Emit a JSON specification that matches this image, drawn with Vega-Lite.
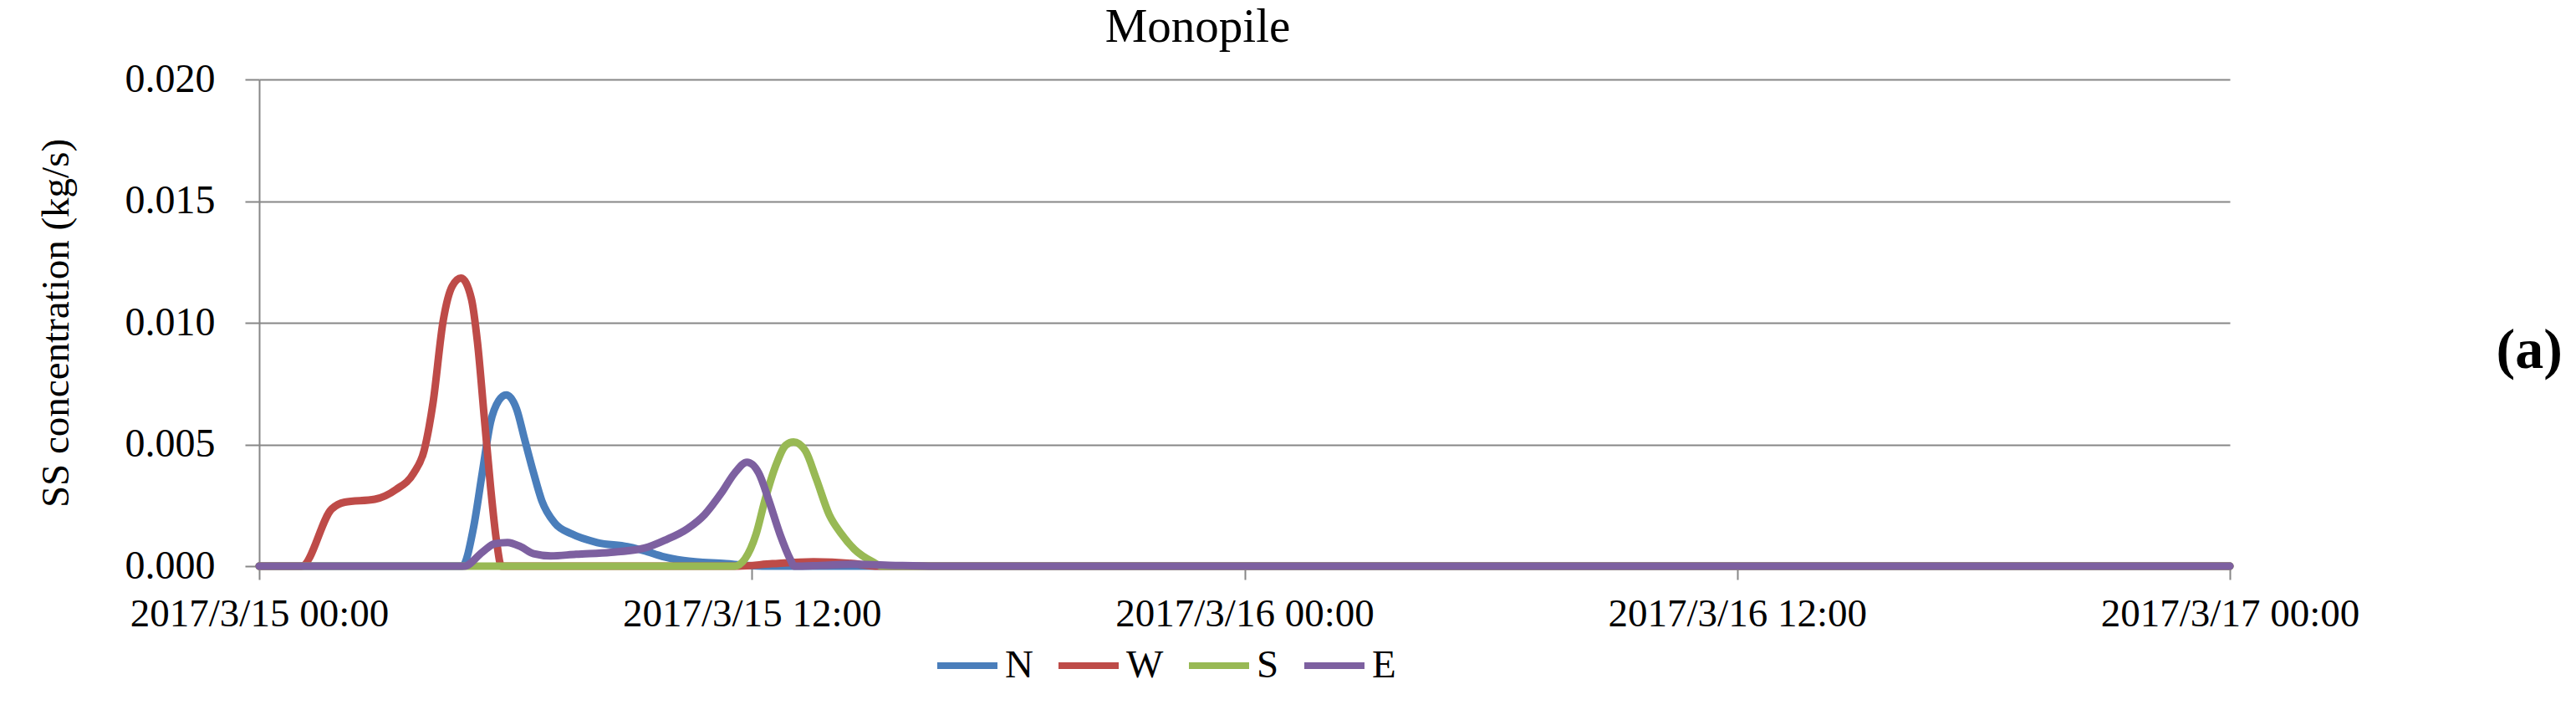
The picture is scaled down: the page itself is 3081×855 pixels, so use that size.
{
  "$schema": "https://vega.github.io/schema/vega-lite/v6.json",
  "autosize": {"type": "none"},
  "width": 2357,
  "height": 582,
  "padding": {"left": 310, "top": 95, "right": 414, "bottom": 178},
  "background": "white",
  "config": {"view": {"stroke": null}},
  "title": {"text": "Monopile", "font": "Liberation Serif", "fontSize": 57, "fontWeight": "normal", "color": "black", "anchor": "middle", "frame": "group", "offset": 9, "dx": -56},
  "data": {"values": [
    {"series": "N", "t": "2017-03-15T00:00:00", "v": 0},
    {"series": "N", "t": "2017-03-15T04:57:00", "v": 0},
    {"series": "N", "t": "2017-03-15T05:13:00", "v": 0.00155},
    {"series": "N", "t": "2017-03-15T05:26:00", "v": 0.00383},
    {"series": "N", "t": "2017-03-15T05:38:00", "v": 0.0059},
    {"series": "N", "t": "2017-03-15T05:50:00", "v": 0.0068},
    {"series": "N", "t": "2017-03-15T06:01:00", "v": 0.00704},
    {"series": "N", "t": "2017-03-15T06:16:00", "v": 0.00647},
    {"series": "N", "t": "2017-03-15T06:28:00", "v": 0.0052},
    {"series": "N", "t": "2017-03-15T06:41:00", "v": 0.00383},
    {"series": "N", "t": "2017-03-15T06:53:00", "v": 0.00269},
    {"series": "N", "t": "2017-03-15T07:12:00", "v": 0.00177},
    {"series": "N", "t": "2017-03-15T07:37:00", "v": 0.00132},
    {"series": "N", "t": "2017-03-15T08:14:00", "v": 0.00097},
    {"series": "N", "t": "2017-03-15T08:58:00", "v": 0.0008},
    {"series": "N", "t": "2017-03-15T09:23:00", "v": 0.00063},
    {"series": "N", "t": "2017-03-15T09:49:00", "v": 0.0004},
    {"series": "N", "t": "2017-03-15T10:20:00", "v": 0.00023},
    {"series": "N", "t": "2017-03-15T11:22:00", "v": 0.0001},
    {"series": "N", "t": "2017-03-15T12:00:00", "v": 0.00002},
    {"series": "N", "t": "2017-03-15T12:30:00", "v": 0},
    {"series": "N", "t": "2017-03-17T00:00:00", "v": 0},
    {"series": "W", "t": "2017-03-15T00:00:00", "v": 0},
    {"series": "W", "t": "2017-03-15T01:02:00", "v": 0},
    {"series": "W", "t": "2017-03-15T01:46:00", "v": 0.00235},
    {"series": "W", "t": "2017-03-15T02:05:00", "v": 0.00263},
    {"series": "W", "t": "2017-03-15T02:49:00", "v": 0.00275},
    {"series": "W", "t": "2017-03-15T03:20:00", "v": 0.00315},
    {"series": "W", "t": "2017-03-15T03:46:00", "v": 0.00383},
    {"series": "W", "t": "2017-03-15T04:01:00", "v": 0.00475},
    {"series": "W", "t": "2017-03-15T04:14:00", "v": 0.0067},
    {"series": "W", "t": "2017-03-15T04:29:00", "v": 0.0101},
    {"series": "W", "t": "2017-03-15T04:42:00", "v": 0.0115},
    {"series": "W", "t": "2017-03-15T04:55:00", "v": 0.01184},
    {"series": "W", "t": "2017-03-15T05:10:00", "v": 0.011},
    {"series": "W", "t": "2017-03-15T05:19:00", "v": 0.0092},
    {"series": "W", "t": "2017-03-15T05:29:00", "v": 0.0061},
    {"series": "W", "t": "2017-03-15T05:38:00", "v": 0.0033},
    {"series": "W", "t": "2017-03-15T05:47:00", "v": 0.001},
    {"series": "W", "t": "2017-03-15T05:54:00", "v": 0},
    {"series": "W", "t": "2017-03-15T11:40:00", "v": 0},
    {"series": "W", "t": "2017-03-15T12:30:00", "v": 0.0001},
    {"series": "W", "t": "2017-03-15T13:30:00", "v": 0.00018},
    {"series": "W", "t": "2017-03-15T14:30:00", "v": 0.0001},
    {"series": "W", "t": "2017-03-15T15:00:00", "v": 0},
    {"series": "W", "t": "2017-03-17T00:00:00", "v": 0},
    {"series": "S", "t": "2017-03-15T00:00:00", "v": 0},
    {"series": "S", "t": "2017-03-15T11:35:00", "v": 0},
    {"series": "S", "t": "2017-03-15T11:50:00", "v": 0.0003},
    {"series": "S", "t": "2017-03-15T12:06:00", "v": 0.0013},
    {"series": "S", "t": "2017-03-15T12:19:00", "v": 0.0027},
    {"series": "S", "t": "2017-03-15T12:34:00", "v": 0.00406},
    {"series": "S", "t": "2017-03-15T12:50:00", "v": 0.00498},
    {"series": "S", "t": "2017-03-15T13:01:00", "v": 0.0051},
    {"series": "S", "t": "2017-03-15T13:18:00", "v": 0.00475},
    {"series": "S", "t": "2017-03-15T13:34:00", "v": 0.0036},
    {"series": "S", "t": "2017-03-15T13:53:00", "v": 0.00212},
    {"series": "S", "t": "2017-03-15T14:11:00", "v": 0.00132},
    {"series": "S", "t": "2017-03-15T14:30:00", "v": 0.00069},
    {"series": "S", "t": "2017-03-15T14:57:00", "v": 0.00017},
    {"series": "S", "t": "2017-03-15T15:10:00", "v": 0},
    {"series": "S", "t": "2017-03-17T00:00:00", "v": 0},
    {"series": "E", "t": "2017-03-15T00:00:00", "v": 0},
    {"series": "E", "t": "2017-03-15T05:00:00", "v": 0},
    {"series": "E", "t": "2017-03-15T05:26:00", "v": 0.00057},
    {"series": "E", "t": "2017-03-15T05:44:00", "v": 0.00092},
    {"series": "E", "t": "2017-03-15T06:03:00", "v": 0.00097},
    {"series": "E", "t": "2017-03-15T06:22:00", "v": 0.0008},
    {"series": "E", "t": "2017-03-15T06:41:00", "v": 0.00051},
    {"series": "E", "t": "2017-03-15T07:06:00", "v": 0.00042},
    {"series": "E", "t": "2017-03-15T07:43:00", "v": 0.00049},
    {"series": "E", "t": "2017-03-15T08:34:00", "v": 0.00057},
    {"series": "E", "t": "2017-03-15T09:23:00", "v": 0.00074},
    {"series": "E", "t": "2017-03-15T09:55:00", "v": 0.00109},
    {"series": "E", "t": "2017-03-15T10:26:00", "v": 0.00154},
    {"series": "E", "t": "2017-03-15T10:51:00", "v": 0.00212},
    {"series": "E", "t": "2017-03-15T11:16:00", "v": 0.00303},
    {"series": "E", "t": "2017-03-15T11:35:00", "v": 0.00383},
    {"series": "E", "t": "2017-03-15T11:53:00", "v": 0.00427},
    {"series": "E", "t": "2017-03-15T12:10:00", "v": 0.00383},
    {"series": "E", "t": "2017-03-15T12:25:00", "v": 0.00269},
    {"series": "E", "t": "2017-03-15T12:41:00", "v": 0.00132},
    {"series": "E", "t": "2017-03-15T12:56:00", "v": 0.00029},
    {"series": "E", "t": "2017-03-15T13:02:00", "v": 0},
    {"series": "E", "t": "2017-03-15T13:40:00", "v": 0.00003},
    {"series": "E", "t": "2017-03-15T14:30:00", "v": 0.00008},
    {"series": "E", "t": "2017-03-15T15:30:00", "v": 0.00003},
    {"series": "E", "t": "2017-03-15T16:30:00", "v": 0},
    {"series": "E", "t": "2017-03-17T00:00:00", "v": 0}
  ]},
  "encoding": {
    "x": {
      "field": "t", "type": "temporal",
      "scale": {"domain": [{"year": 2017, "month": 3, "date": 15}, {"year": 2017, "month": 3, "date": 17}]},
      "axis": {
        "title": null,
        "values": [
          {"year": 2017, "month": 3, "date": 15, "hours": 0},
          {"year": 2017, "month": 3, "date": 15, "hours": 12},
          {"year": 2017, "month": 3, "date": 16, "hours": 0},
          {"year": 2017, "month": 3, "date": 16, "hours": 12},
          {"year": 2017, "month": 3, "date": 17, "hours": 0}
        ],
        "format": "%Y/%-m/%-d %H:%M",
        "grid": false,
        "domainColor": "#878787", "domainWidth": 2,
        "tickColor": "#878787", "tickWidth": 2, "tickSize": 16,
        "labelFont": "Liberation Serif", "labelFontSize": 47, "labelColor": "black",
        "labelPadding": 18, "labelFlush": false, "labelOverlap": false, "labelLimit": 500
      }
    },
    "color": {
      "field": "series", "type": "nominal",
      "scale": {"domain": ["N", "W", "S", "E"], "range": ["#4A7EBB", "#BE4B48", "#98B954", "#7D60A0"]},
      "legend": {
        "title": null, "orient": "none", "direction": "horizontal",
        "legendX": 807, "legendY": 661, "padding": 0,
        "symbolType": "stroke", "symbolSize": 5184, "symbolStrokeWidth": 8,
        "labelFont": "Liberation Serif", "labelFontSize": 47, "labelColor": "black",
        "labelOffset": 5, "columnPadding": 14, "labelLimit": 300
      }
    }
  },
  "layer": [
    {
      "transform": [{"filter": "datum.series != 'E'"}],
      "mark": {"type": "line", "interpolate": "monotone", "strokeWidth": 9, "strokeCap": "round", "strokeJoin": "round"},
      "encoding": {
        "y": {
          "field": "v", "type": "quantitative",
          "scale": {"domain": [0, 0.02], "nice": false},
          "axis": {
            "orient": "left",
            "title": "SS concentration (kg/s)",
            "values": [0, 0.005, 0.01, 0.015, 0.02],
            "format": ".3f",
            "grid": true, "gridColor": "#878787", "gridWidth": 2,
            "domainColor": "#878787", "domainWidth": 2,
            "tickColor": "#878787", "tickWidth": 2, "tickSize": 17,
            "labelFont": "Liberation Serif", "labelFontSize": 48, "labelColor": "black", "labelPadding": 36,
            "titleFont": "Liberation Serif", "titleFontSize": 47, "titleFontWeight": "normal", "titleColor": "black", "titlePadding": 58
          }
        }
      }
    },
    {
      "transform": [{"filter": "datum.series == 'E'"}],
      "mark": {"type": "line", "interpolate": "monotone", "strokeWidth": 9, "strokeCap": "round", "strokeJoin": "round"},
      "encoding": {
        "y": {
          "field": "v", "type": "quantitative",
          "scale": {"domain": [0, 0.02], "nice": false},
          "axis": {
            "orient": "right",
            "title": "(a)",
            "labels": false, "ticks": false, "domain": false, "grid": false,
            "titleAngle": 0, "titleAlign": "left", "titleBaseline": "middle",
            "titlePadding": 318, "titleY": 324,
            "titleFont": "Liberation Serif", "titleFontSize": 68, "titleFontWeight": "bold", "titleColor": "black"
          }
        }
      }
    }
  ],
  "resolve": {"axis": {"y": "independent"}}
}
